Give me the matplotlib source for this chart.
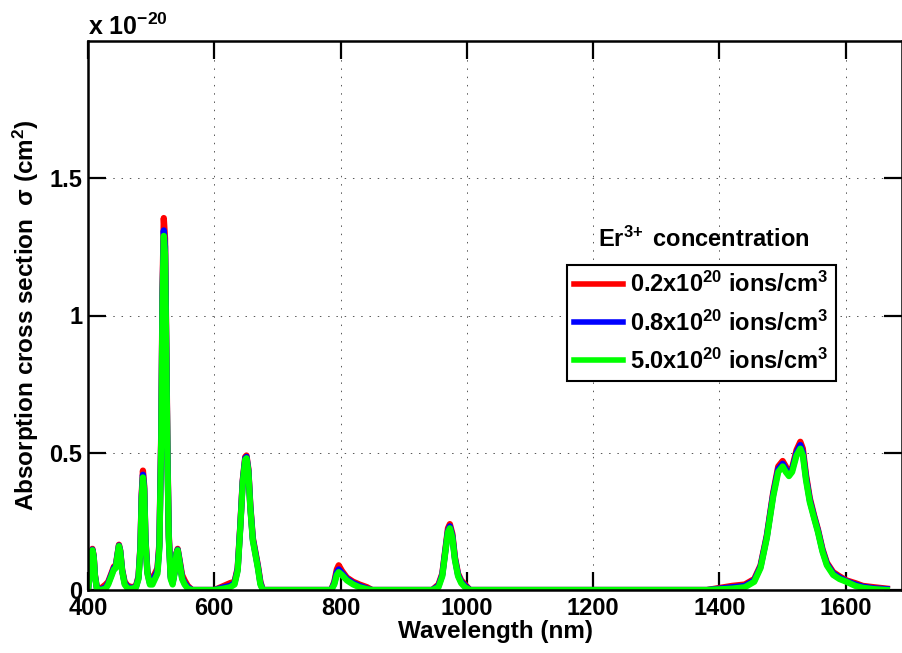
import matplotlib
matplotlib.use("Agg")
import matplotlib.pyplot as plt
import numpy as np

# fonts: bold Arial-like everywhere, mathtext too
plt.rcParams['font.family'] = ['Liberation Sans', 'DejaVu Sans']
plt.rcParams['font.weight'] = 'bold'
plt.rcParams['mathtext.fontset'] = 'custom'
plt.rcParams['mathtext.rm'] = 'Liberation Sans:bold'
plt.rcParams['mathtext.it'] = 'Liberation Sans:bold'
plt.rcParams['mathtext.bf'] = 'Liberation Sans:bold'
plt.rcParams['mathtext.default'] = 'rm'

# wavelength samples (nm)
wavelength = [
    400, 403, 405, 407, 409, 411, 414, 420, 428, 432, 437, 441, 444, 447, 449, 451, 454, 458, 463, 470,
    476, 480, 483, 485, 487, 489, 491, 494, 498, 502, 506, 510, 513, 516, 518, 520, 522, 524, 526, 528, 531, 534,
    537, 540, 542, 545, 549, 553, 558, 565,
    600, 615, 625, 632, 637, 641, 645, 649, 651, 654, 657, 661, 665, 669, 673, 677,
    785, 790, 794, 797, 802, 810, 820, 830, 842, 850,
    945, 955, 961, 966, 970, 973, 977, 981, 986, 991, 997, 1005,
    1380, 1420, 1440, 1455, 1465, 1475, 1485, 1493, 1500, 1505, 1510, 1515, 1522, 1528, 1532, 1537,
    1543, 1550, 1556, 1563, 1570, 1580, 1590, 1601, 1615, 1627, 1645, 1665,
]

# absorption cross section (x 1e-20 cm^2) for each Er3+ concentration
sigma_02 = [
    0, 0.07, 0.13, 0.15, 0.125, 0.055, 0.01, 0.005, 0.02, 0.03, 0.06, 0.085, 0.09, 0.135, 0.165, 0.145, 0.075, 0.03, 0.015, 0.01,
    0.015, 0.05, 0.16, 0.35, 0.435, 0.38, 0.19, 0.07, 0.03, 0.04, 0.06, 0.08, 0.17, 0.58, 1.1, 1.355, 1.28, 0.9, 0.48, 0.2, 0.05, 0.03,
    0.065, 0.135, 0.15, 0.11, 0.055, 0.035, 0.015, 0,
    0, 0.015, 0.025, 0.03, 0.08, 0.23, 0.40, 0.485, 0.49, 0.44, 0.31, 0.19, 0.14, 0.09, 0.03, 0,
    0, 0.03, 0.075, 0.09, 0.07, 0.045, 0.03, 0.02, 0.01, 0,
    0, 0.02, 0.06, 0.15, 0.225, 0.24, 0.205, 0.12, 0.06, 0.035, 0.02, 0,
    0, 0.015, 0.02, 0.04, 0.09, 0.2, 0.355, 0.45, 0.47, 0.45, 0.425, 0.445, 0.51, 0.54, 0.515, 0.42,
    0.335, 0.27, 0.22, 0.15, 0.1, 0.065, 0.05, 0.035, 0.025, 0.015, 0.01, 0.005,
]
sigma_08 = [
    0, 0.065, 0.125, 0.147, 0.122, 0.052, 0.007, 0.002, 0.01, 0.025, 0.055, 0.08, 0.085, 0.132, 0.162, 0.142, 0.072, 0.025, 0.01, 0.007,
    0.012, 0.045, 0.155, 0.34, 0.42, 0.37, 0.185, 0.065, 0.025, 0.03, 0.05, 0.07, 0.16, 0.56, 1.07, 1.31, 1.25, 0.87, 0.46, 0.19, 0.045, 0.025,
    0.062, 0.132, 0.147, 0.105, 0.045, 0.025, 0.01, 0,
    0, 0.01, 0.015, 0.025, 0.075, 0.225, 0.395, 0.48, 0.485, 0.435, 0.305, 0.185, 0.135, 0.085, 0.025, 0,
    0, 0.025, 0.065, 0.075, 0.062, 0.04, 0.025, 0.015, 0.005, 0,
    0, 0.015, 0.055, 0.145, 0.215, 0.232, 0.197, 0.115, 0.055, 0.03, 0.015, 0,
    0, 0.01, 0.015, 0.035, 0.085, 0.195, 0.348, 0.44, 0.46, 0.44, 0.42, 0.438, 0.5, 0.528, 0.5, 0.41,
    0.327, 0.265, 0.215, 0.145, 0.095, 0.06, 0.045, 0.032, 0.02, 0.012, 0.006, 0.003,
]
sigma_50 = [
    0, 0.06, 0.12, 0.145, 0.12, 0.05, 0.005, 0, 0.005, 0.02, 0.05, 0.075, 0.08, 0.13, 0.16, 0.14, 0.07, 0.02, 0.005, 0.005,
    0.01, 0.04, 0.15, 0.33, 0.41, 0.36, 0.18, 0.06, 0.02, 0.02, 0.04, 0.06, 0.15, 0.55, 1.05, 1.29, 1.22, 0.85, 0.45, 0.18, 0.04, 0.02,
    0.06, 0.13, 0.145, 0.10, 0.04, 0.02, 0.005, 0,
    0, 0.005, 0.01, 0.02, 0.07, 0.22, 0.39, 0.475, 0.48, 0.43, 0.30, 0.18, 0.13, 0.08, 0.02, 0,
    0, 0.02, 0.055, 0.065, 0.055, 0.035, 0.02, 0.01, 0.003, 0,
    0, 0.01, 0.05, 0.14, 0.21, 0.225, 0.19, 0.11, 0.05, 0.025, 0.01, 0,
    0, 0.005, 0.01, 0.03, 0.08, 0.19, 0.34, 0.43, 0.45, 0.43, 0.415, 0.43, 0.49, 0.515, 0.49, 0.40,
    0.32, 0.26, 0.21, 0.14, 0.09, 0.055, 0.04, 0.03, 0.015, 0.008, 0.003, 0,
]
assert len(wavelength) == len(sigma_02) == len(sigma_08) == len(sigma_50)

labels = [r'0.2x10$^{20}$ ions/cm$^{3}$',
          r'0.8x10$^{20}$ ions/cm$^{3}$',
          r'5.0x10$^{20}$ ions/cm$^{3}$']
colors = ['#ff0000', '#0000ff', '#00ff00']

xticks = [400, 600, 800, 1000, 1200, 1400, 1600]
yticks = [0, 0.5, 1, 1.5]
ytick_labels = ['0', '0.5', '1', '1.5']

fig = plt.figure(figsize=(9.02, 6.53), dpi=100)
ax = fig.add_axes([88 / 902, 63 / 653, 814 / 902, 549 / 653])

for ys, c, lab in zip([sigma_02, sigma_08, sigma_50], colors, labels):
    ax.plot(wavelength, ys, color=c, lw=4.5, label=lab, solid_joinstyle='round')

ax.set_xlim(400, 1689)
ax.set_ylim(0, 2)
ax.set_xticks(xticks)
ax.set_yticks(yticks)
ax.set_yticklabels(ytick_labels)
ax.grid(True, color='#555555', linestyle=(0, (1.5, 7)), lw=0.7)
ax.tick_params(direction='in', length=13, width=1.6, labelsize=17,
               top=True, right=True, pad=4)
ax.tick_params(axis='x', pad=5)
for s in ax.spines.values():
    s.set_linewidth(1.8)

ax.set_xlabel('Wavelength (nm)', fontsize=17.5, fontweight='bold', labelpad=0)
ax.set_ylabel(r'Absorption cross section  $\sigma$ (cm$^{2}$)', fontsize=17.5,
              fontweight='bold', labelpad=6)

fig.text(88 / 902, 1 - 27 / 653, u'x 10$^{\u221220}$', fontsize=18,
         fontweight='bold', ha='left', va='center')

ax.text(0.756, 0.638, r'Er$^{3\!+}$ concentration', transform=ax.transAxes,
        fontsize=17, fontweight='bold', ha='center', va='center')

leg = ax.legend(loc='upper left', bbox_to_anchor=(0.588, 0.592), borderaxespad=0,
                fontsize=17, handlelength=2.1, handletextpad=0.3, labelspacing=0.55,
                fancybox=False, framealpha=1, edgecolor='black', borderpad=0.3)
leg.get_frame().set_linewidth(1.5)
for line in leg.get_lines():
    line.set_linewidth(4)

fig.savefig('out.png', dpi=100)
